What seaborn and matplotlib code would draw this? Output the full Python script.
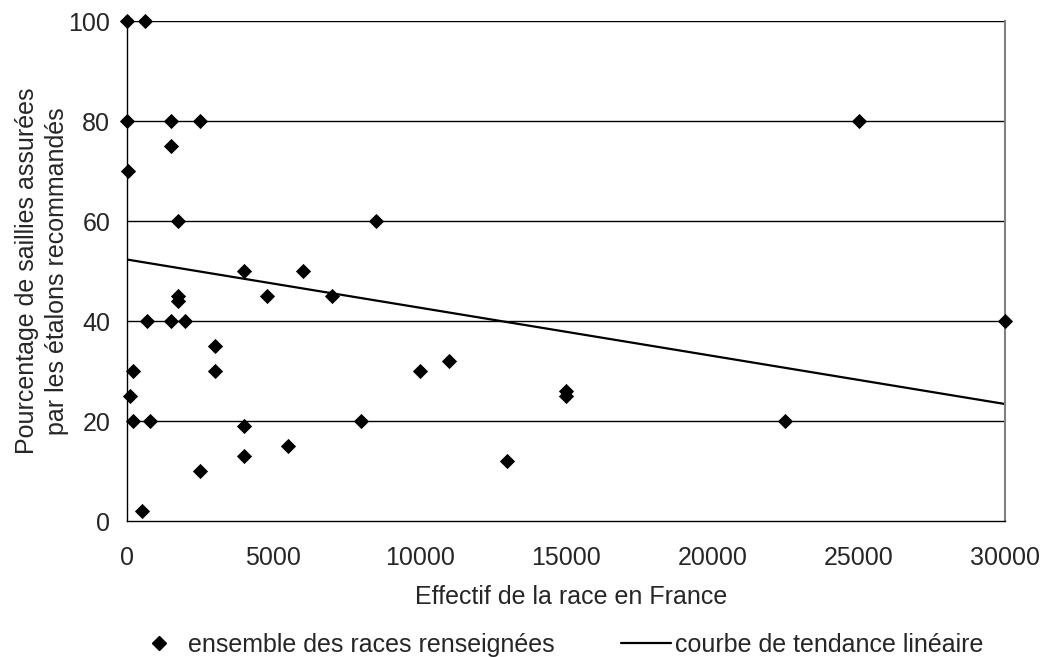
import numpy as np
import pandas as pd
import matplotlib
matplotlib.use('Agg')
import matplotlib.pyplot as plt
import seaborn as sns
from matplotlib.lines import Line2D

# Effectif de la race (x) et pourcentage de saillies (y)
effectif = [0, 600, 0, 1500, 2500, 25000, 1500, 50, 1750, 8500,
            4000, 6000, 4800, 1750, 1750, 7000, 700, 1500, 2000, 30000,
            3000, 3000, 200, 10000, 11000, 100, 15000, 15000, 200, 800,
            8000, 22500, 4000, 4000, 5500, 13000, 2500, 500]
pourcentage = [100, 100, 80, 80, 80, 80, 75, 70, 60, 60,
               50, 50, 45, 45, 44, 45, 40, 40, 40, 40,
               35, 30, 30, 30, 32, 25, 26, 25, 20, 20,
               20, 20, 19, 13, 15, 12, 10, 2]

# courbe de tendance linéaire (valeurs lues aux extrémités)
tendance_x = [0, 30000]
tendance_y = [52.3, 23.4]

x_ticks = [0, 5000, 10000, 15000, 20000, 25000, 30000]
y_ticks = [0, 20, 40, 60, 80, 100]

df = pd.DataFrame({'effectif': effectif, 'pourcentage': pourcentage})
df_tendance = pd.DataFrame({'effectif': tendance_x, 'pourcentage': tendance_y})

sns.set_style('white')
plt.rcParams['font.family'] = ['Liberation Sans', 'DejaVu Sans']
fs = 18

fig = plt.figure(figsize=(10.44, 6.57), dpi=100)
ax = fig.add_axes([0.1216, 0.207, 0.8410, 0.761])

# gridlines
for v in y_ticks[1:]:
    ax.axhline(v, color='black', lw=1, zorder=1)

sns.lineplot(data=df_tendance, x='effectif', y='pourcentage', color='black',
             lw=1.6, zorder=2, ax=ax)
sns.scatterplot(data=df, x='effectif', y='pourcentage', marker='D', s=60,
                color='black', edgecolor='black', linewidth=0, zorder=3,
                clip_on=False, ax=ax)

ax.set_xlim(0, 30000)
ax.set_ylim(0, 100)
ax.set_xticks(x_ticks)
ax.set_yticks(y_ticks)
ax.tick_params(axis='x', labelsize=fs, direction='out', length=7,
               width=1, color='#808080', pad=11)
ax.tick_params(axis='y', labelsize=fs, direction='out', length=7,
               width=1, color='black', pad=5)

for side in ['left', 'bottom']:
    ax.spines[side].set_color('black')
    ax.spines[side].set_linewidth(1)
ax.spines['top'].set_visible(False)
ax.spines['right'].set_color('#808080')
ax.spines['right'].set_linewidth(1.5)

ax.set_xlabel('')
ax.set_ylabel('')
fig.text(0.547, 0.0913, 'Effectif de la race en France', fontsize=fs,
         ha='center', va='center')
fig.text(0.0402, 0.5875, 'Pourcentage de saillies assurées\npar les étalons recommandés',
         fontsize=fs, rotation=90, ha='center', va='center', multialignment='center',
         linespacing=1.3)

handles = [Line2D([], [], marker='D', color='black', linestyle='none', markersize=7.5),
           Line2D([], [], color='black', lw=1.6)]
labels = ['ensemble des races renseignées', 'courbe de tendance linéaire']
fig.legend(handles, labels, loc='center', bbox_to_anchor=(0.535, 0.018), ncol=2,
           frameon=False, fontsize=fs, handlelength=2.0, handletextpad=0.16,
           columnspacing=2.64, borderpad=0, borderaxespad=0)

plt.savefig('out.png', dpi=100)
